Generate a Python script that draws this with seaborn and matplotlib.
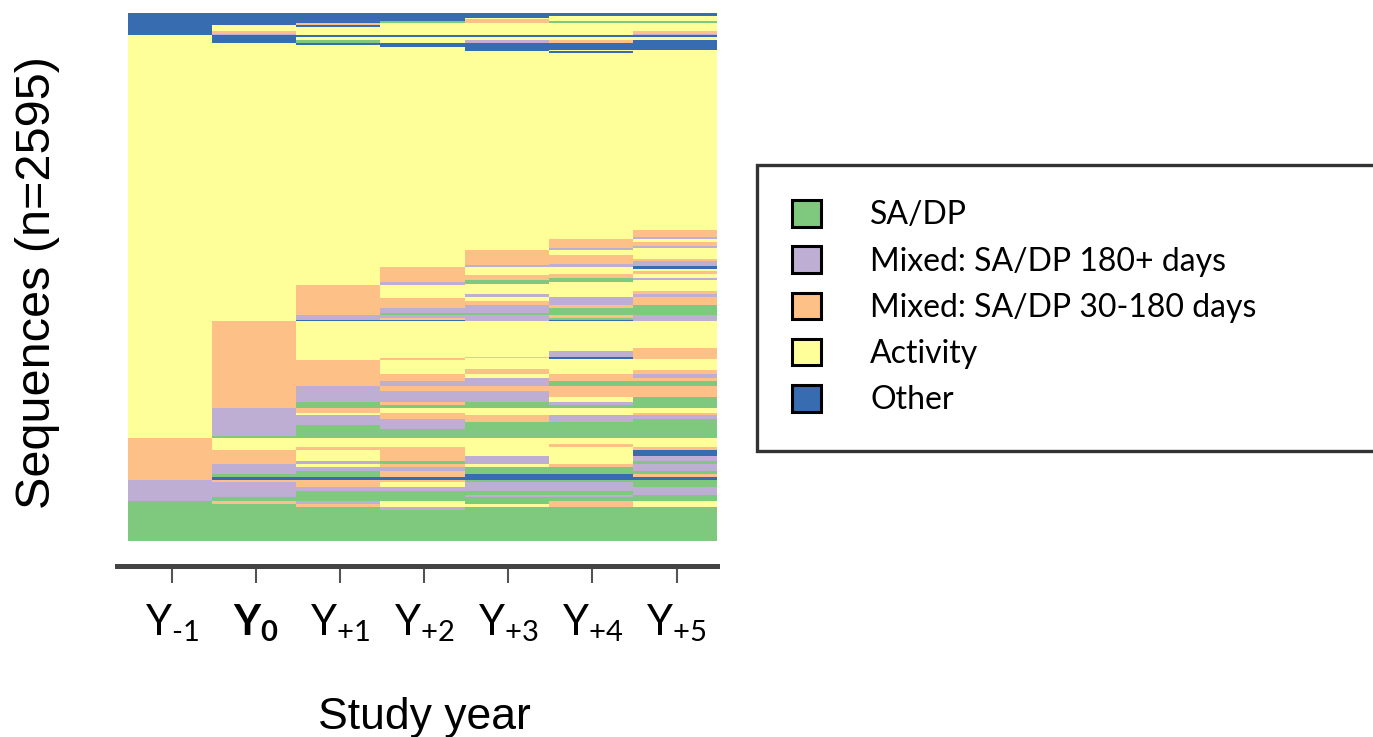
import numpy as np
import matplotlib
matplotlib.use("Agg")
import matplotlib.pyplot as plt
from matplotlib.colors import ListedColormap
from matplotlib.patches import Patch
import seaborn as sns

# states, in legend order (index = code used in the matrix)
state_labels = ["SA/DP", "Mixed: SA/DP 180+ days", "Mixed: SA/DP 30-180 days", "Activity", "Other"]
state_codes = ["S", "P", "M", "A", "O"]

# study years (columns)
year_labels = ["$\\mathregular{Y_{\u20101}}$", r"$\mathbf{Y_0}$", r"$\mathregular{Y_{+1}}$",
               r"$\mathregular{Y_{+2}}$", r"$\mathregular{Y_{+3}}$", r"$\mathregular{Y_{+4}}$",
               r"$\mathregular{Y_{+5}}$"]

# sequence patterns (Y-1 .. Y+5), top to bottom as plotted, with number of persons
seq_patterns = [
    "OOOOOOO", "OOOOOAA", "OOOOAAA", "OOOOMAA", "OOOSMSS", "OOMAAAA", "OAOAAAA", "OAAAAAA",
    "OMAAAAM", "OPAAAAP",
    "AOOOOOO", "AOAAAAA", "AOSAPMO",
    "AAOOOOO", "AAAOOOO", "AAAAOOO", "AAAAOAA", "AAAAAOA", "AAAAAAA", "AAAAAAM", "AAAAAAP",
    "AAAAAMA", "AAAAAMM", "AAAAAMP", "AAAAAPA", "AAAAMAA", "AAAAMMA", "AAAAMMM", "AAAAMMP",
    "AAAAMPP", "AAAAPPP", "AAAAPPO", "AAAMAAO", "AAAMAAA", "AAAMAAM", "AAAMAMA", "AAAMMMA",
    "AAAMMSP", "AAAMSSA", "AAAPSAA", "AAAPAAA", "AAMAAAA", "AAMAAAM", "AAMAPAP", "AAMAAPM",
    "AAMMAPM", "AAMMMPM", "AAMMPMS", "AAMPPSS", "AAMSSSS", "AAPPPMP", "AAPMPSP", "AAOOPOP",
    "AMAAAAA", "AMAAAAM", "AMAAAPM", "AMAAMOM", "AMAMAOM", "AMAMAAA", "AMMAAAA", "AMMAMAA",
    "AMMAMAM", "AMMMAMP", "AMMMPMM", "AMMPPSS", "AMPMMMM", "AMPPPMM", "AMPPPAS", "AMSMSPS",
    "AMSSSSS",
    "APMAAAA", "APAMAAM", "APPMMPP", "APPPMPS", "APPPSSS", "APSPSSS", "APSSSSS", "ASSSSSS",
    "MAAAAAA", "MAAAAMA", "MAMMAAM", "MMAMAAO", "MMAMPAP", "MMPSPAS", "MPAMAMP", "MPPPSSP",
    "MPSMSSS", "MSSMOOM", "MOOOOOO",
    "PMMMSSS", "PPMAPPS", "PPPPPPP", "PPSSSSP", "PPSSPPS", "PSSSSSS",
    "SMPASMA", "SSMAAMA", "SSSPSSS", "SSSSSSS",
]
seq_counts = [
    15, 10, 5, 10, 10, 10, 10, 20,
    15, 5,
    10, 15, 10,
    10, 10, 15, 8, 8, 870, 34, 10,
    15, 20, 12, 10, 20, 20, 10, 15,
    5, 5, 8, 10, 10, 15, 5, 10,
    10, 10, 10, 5, 30, 15, 15, 5,
    15, 20, 15, 25, 10, 15, 10, 5,
    130, 15, 30, 5, 5, 5, 45, 5,
    20, 20, 15, 25, 25, 25, 25, 15,
    15,
    25, 10, 20, 15, 15, 20, 35, 10,
    30, 15, 15, 25, 25, 15, 15, 20,
    15, 15, 15,
    10, 25, 20, 20, 10, 20,
    15, 15, 15, 150,
]

# expand to one row per person
code_index = {c: i for i, c in enumerate(state_codes)}
rows = []
for pat, n in zip(seq_patterns, seq_counts):
    rows.extend([[code_index[c] for c in pat]] * n)
seq_matrix = np.array(rows)
n_seq = seq_matrix.shape[0]

plt.rcParams['mathtext.fontset'] = 'custom'
plt.rcParams['mathtext.rm'] = 'Lato'
plt.rcParams['mathtext.bf'] = 'Lato:bold'
plt.rcParams['font.family'] = ['Lato', 'DejaVu Sans']

colors = sns.color_palette("Accent", 5)

fig = plt.figure(figsize=(13.73, 7.37), dpi=100)
ax = fig.add_axes([128 / 1373, 1 - 541 / 737, 589 / 1373, 528 / 737])

sns.heatmap(seq_matrix, cmap=ListedColormap(colors), vmin=-0.5, vmax=4.5,
            cbar=False, xticklabels=False, yticklabels=False, ax=ax, rasterized=True)

# axis styling
for s in ["left", "right", "top"]:
    ax.spines[s].set_visible(False)
ax.spines["bottom"].set_visible(True)
ax.spines["bottom"].set_position(("outward", 18))
ax.spines["bottom"].set_linewidth(3.6)
ax.spines["bottom"].set_color("#444444")
ax.spines["bottom"].set_bounds(-0.13, 7.0)

ax.set_xticks(np.arange(7) + 0.52)
ax.set_xticklabels(year_labels, fontsize=30)
ax.tick_params(axis="x", length=12, width=1.5, color="#555555", pad=14, bottom=True)
ax.set_yticks([])

ax.set_xlabel("Study year", fontsize=32, fontfamily="Liberation Sans")
ax.xaxis.set_label_coords(0.504, -0.295)
ax.set_ylabel(f"Sequences (n={n_seq})", fontsize=35, fontfamily="Liberation Sans", va="center")
ax.yaxis.set_label_coords(-0.153, 0.49)

handles = [Patch(facecolor=c, edgecolor="black", linewidth=2.2) for c in colors]
fig.legend(handles, state_labels, loc="upper left",
           bbox_to_anchor=(757 / 1373, 0.2, 0.6, 1 - 165 / 737 - 0.2),
           mode="expand", fontsize=23, frameon=True, fancybox=False,
           edgecolor="black", handlelength=0.9, handleheight=0.9,
           handletextpad=1.55, labelspacing=0.5, borderpad=1.1, borderaxespad=0)
fig.legends[0].get_frame().set_linewidth(2.4)

fig.savefig("out.png", dpi=100)
